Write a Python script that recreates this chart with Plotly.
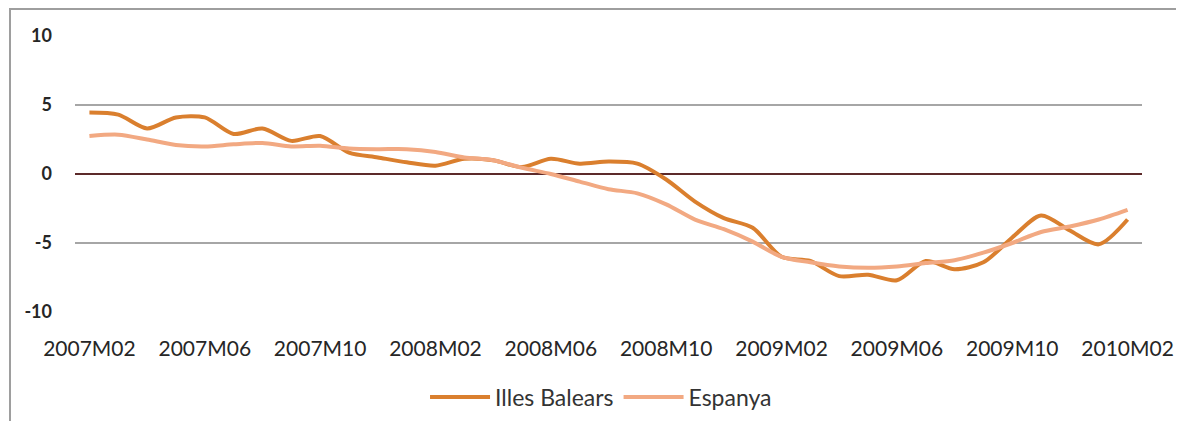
import plotly.graph_objects as go

months = [f"{y}M{m:02d}" for y, m in
          [(2007, m) for m in range(2, 13)] + [(2008, m) for m in range(1, 13)] +
          [(2009, m) for m in range(1, 13)] + [(2010, m) for m in range(1, 3)]]

illes_balears = [4.45, 4.3, 3.3, 4.1, 4.1, 2.9, 3.3, 2.4, 2.75, 1.55, 1.2,
                 0.85, 0.6, 1.1, 1.0, 0.5, 1.1, 0.75, 0.9, 0.75, -0.4, -2.0, -3.2,
                 -3.9, -6.0, -6.3, -7.4, -7.3, -7.7, -6.3, -6.9, -6.4, -4.6, -3.0, -4.1,
                 -5.1, -3.3]
espanya = [2.75, 2.85, 2.5, 2.1, 2.0, 2.15, 2.25, 2.0, 2.05, 1.85, 1.8,
           1.8, 1.6, 1.2, 1.0, 0.45, 0.0, -0.55, -1.1, -1.4, -2.2, -3.3, -4.0,
           -4.9, -6.0, -6.4, -6.7, -6.8, -6.7, -6.45, -6.25, -5.7, -5.0, -4.2, -3.8,
           -3.3, -2.6]

tick_labels = months[::4]
y_ticks = [-10, -5, 0, 5, 10]
y_tick_text = ["-10", "-5", "0", "5", "10"]

dark = "#DA7F2E"
light = "#F2A982"

fig = go.Figure()
fig.add_trace(go.Scatter(x=months, y=illes_balears, name="Illes Balears", mode="lines",
                         line=dict(color=dark, width=4, shape="spline", smoothing=0.8)))
fig.add_trace(go.Scatter(x=months, y=espanya, name="Espanya", mode="lines",
                         line=dict(color=light, width=4, shape="spline", smoothing=0.8)))

# page body has an 8px default margin; margins compensate for it
fig.update_layout(
    width=1184, height=421,
    margin=dict(l=67, r=50, t=28, b=117, autoexpand=False),
    paper_bgcolor="white", plot_bgcolor="white",
    font=dict(family="Lato", size=16, color="#262626"),
    showlegend=True,
    legend=dict(orientation="h", x=0.493, xanchor="center", y=-0.308, yanchor="middle",
                font=dict(size=23, color="#333333"), itemwidth=60, traceorder="normal"),
    xaxis=dict(type="category", range=[-0.5, 36.5], showgrid=False, zeroline=False,
               showline=False, ticks="", tickmode="array", tickvals=tick_labels,
               ticktext=tick_labels, tickangle=0, ticklabelstandoff=22, automargin=False,
               tickfont=dict(size=21, color="#262626")),
    yaxis=dict(range=[-10, 10], tickmode="array", tickvals=y_ticks, ticktext=y_tick_text,
               showgrid=True,
               gridcolor="#A6A6A6", gridwidth=1.5, zeroline=True, zerolinecolor="#5C2A2A",
               zerolinewidth=1.5, showline=False, ticks="", ticklabelstandoff=22,
               automargin=False,
               tickfont=dict(size=18, color="#262626", weight="bold")),
    shapes=[dict(type="rect", xref="paper", yref="paper",
                 x0=(10 - 75) / 1067, x1=(1177 - 75) / 1067,
                 y0=-0.5, y1=(312 - 9) / 276,
                 line=dict(color="#9E9E9E", width=2), layer="below")],
)

fig.write_html("out.html")
